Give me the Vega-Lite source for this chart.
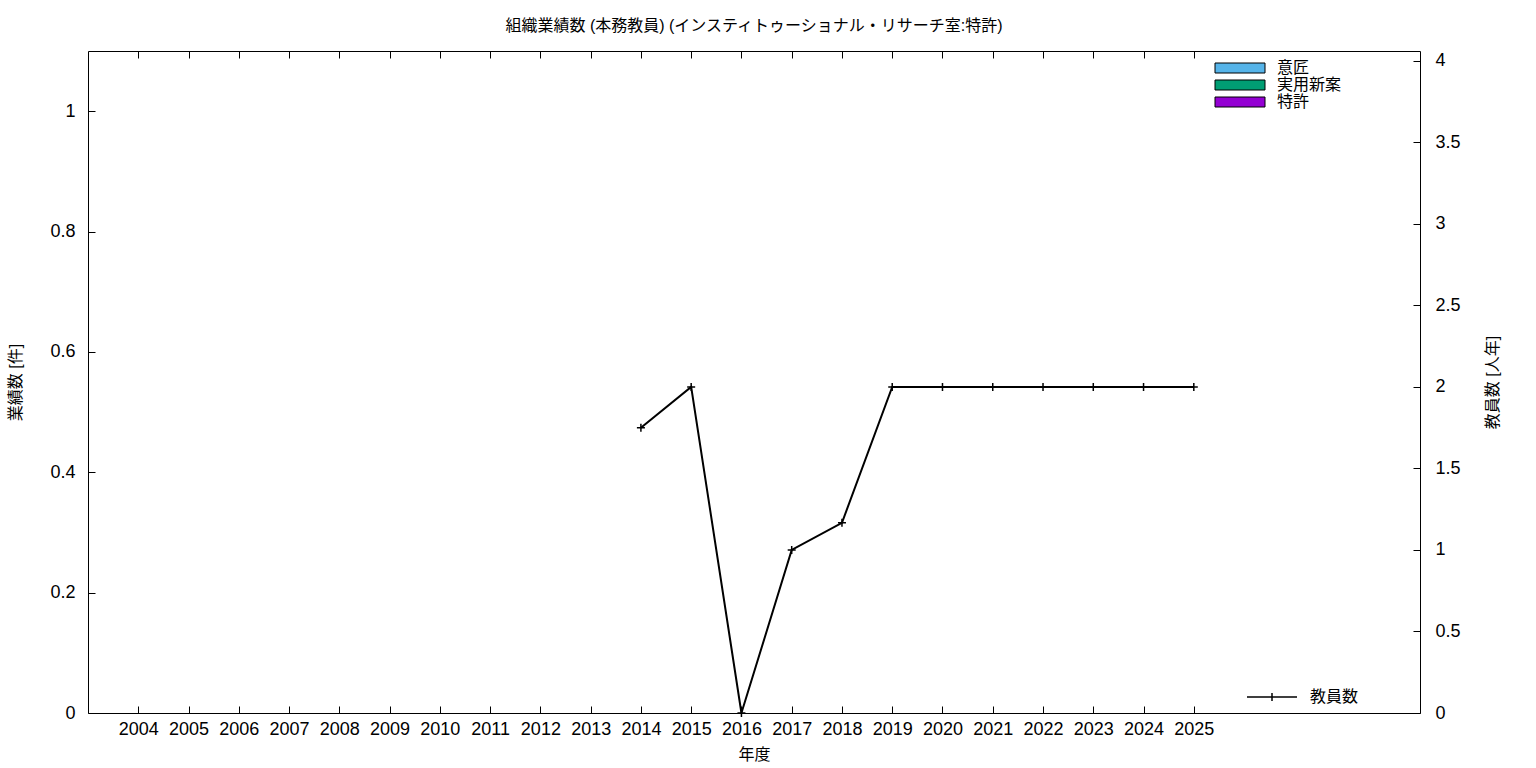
{
  "$schema": "https://vega.github.io/schema/vega-lite/v6.json",
  "autosize": {"type": "none"},
  "padding": {"left": 88, "top": 51, "right": 116, "bottom": 55},
  "width": 1332,
  "height": 662,
  "background": "white",
  "title": {
    "text": "組織業績数 (本務教員) (インスティトゥーショナル・リサーチ室:特許)",
    "font": "Liberation Sans, Noto Sans CJK JP",
    "fontSize": 16,
    "fontWeight": "normal",
    "color": "black",
    "anchor": "middle",
    "frame": "group",
    "offset": 17
  },
  "datasets": {
    "works": [
      {"年度": 2014, "種別": "特許", "件数": 0},
      {"年度": 2015, "種別": "特許", "件数": 0},
      {"年度": 2016, "種別": "特許", "件数": 0},
      {"年度": 2017, "種別": "特許", "件数": 0},
      {"年度": 2018, "種別": "特許", "件数": 0},
      {"年度": 2019, "種別": "特許", "件数": 0},
      {"年度": 2020, "種別": "特許", "件数": 0},
      {"年度": 2021, "種別": "特許", "件数": 0},
      {"年度": 2022, "種別": "特許", "件数": 0},
      {"年度": 2023, "種別": "特許", "件数": 0},
      {"年度": 2024, "種別": "特許", "件数": 0},
      {"年度": 2025, "種別": "特許", "件数": 0}
    ],
    "staff": [
      {"年度": 2014, "教員数": 1.75},
      {"年度": 2015, "教員数": 2},
      {"年度": 2016, "教員数": 0},
      {"年度": 2017, "教員数": 1},
      {"年度": 2018, "教員数": 1.1667},
      {"年度": 2019, "教員数": 2},
      {"年度": 2020, "教員数": 2},
      {"年度": 2021, "教員数": 2},
      {"年度": 2022, "教員数": 2},
      {"年度": 2023, "教員数": 2},
      {"年度": 2024, "教員数": 2},
      {"年度": 2025, "教員数": 2}
    ]
  },
  "layer": [
    {
      "data": {"name": "works"},
      "mark": {"type": "bar", "size": 30},
      "encoding": {
        "x": {
          "field": "年度", "type": "quantitative",
          "scale": {"domain": [2003, 2029.5], "nice": false, "zero": false, "padding": 0},
          "axis": {
            "orient": "bottom",
            "values": [2004,2005,2006,2007,2008,2009,2010,2011,2012,2013,2014,2015,2016,2017,2018,2019,2020,2021,2022,2023,2024,2025],
            "format": "d",
            "labelPadding": 14,
            "title": "年度",
            "titleX": 666,
            "titleY": 41,
            "titleAlign": "center",
            "titleBaseline": "middle"
          }
        },
        "y": {
          "field": "件数", "type": "quantitative",
          "scale": {"domain": [0, 1.1], "nice": false},
          "axis": {
            "orient": "left",
            "values": [0, 0.2, 0.4, 0.6, 0.8, 1],
            "format": "~g",
            "labelPadding": 20,
            "title": "業績数 [件]",
            "titleAngle": -90,
            "titleX": -73,
            "titleY": 331,
            "titleAlign": "center",
            "titleBaseline": "middle"
          }
        },
        "fill": {
          "field": "種別", "type": "nominal",
          "scale": {"domain": ["意匠", "実用新案", "特許"], "range": ["#56b4e9", "#009e73", "#9400d3"]},
          "legend": {
            "orient": "none",
            "legendX": 1144,
            "legendY": 9,
            "title": null,
            "symbolType": "M-5,-1H5V1H-5Z",
            "symbolSize": 100,
            "symbolStrokeColor": "black",
            "symbolStrokeWidth": 1,
            "symbolOpacity": 1,
            "labelOffset": 29,
            "labelFontSize": 16,
            "labelFont": "Liberation Sans, Noto Sans CJK JP",
            "labelColor": "black",
            "rowPadding": 1,
            "padding": 0
          }
        }
      }
    },
    {
      "data": {"name": "staff"},
      "mark": {
        "type": "line",
        "strokeWidth": 2,
        "point": {"shape": "M-1,0H1M0,-1V1", "size": 64, "filled": false, "stroke": "black", "strokeWidth": 1.5}
      },
      "encoding": {
        "x": {
          "field": "年度", "type": "quantitative",
          "scale": {"domain": [2003, 2029.5], "nice": false, "zero": false, "padding": 0},
          "axis": {
            "orient": "top",
            "values": [2004,2005,2006,2007,2008,2009,2010,2011,2012,2013,2014,2015,2016,2017,2018,2019,2020,2021,2022,2023,2024,2025],
            "labels": false,
            "title": null
          }
        },
        "y": {
          "field": "教員数", "type": "quantitative",
          "scale": {"domain": [0, 4.06], "nice": false},
          "axis": {
            "orient": "right",
            "values": [0, 0.5, 1, 1.5, 2, 2.5, 3, 3.5, 4],
            "format": "~g",
            "labelPadding": 22,
            "title": "教員数 [人年]",
            "titleAngle": -90,
            "titleX": 72,
            "titleY": 331,
            "titleAlign": "center",
            "titleBaseline": "middle"
          }
        },
        "stroke": {
          "datum": "教員数",
          "scale": {"range": ["black"]},
          "legend": {
            "orient": "none",
            "legendX": 1176,
            "legendY": 638,
            "title": null,
            "symbolType": "M-5,0H5M0,-0.8V0.8",
            "symbolSize": 100,
            "symbolStrokeWidth": 1.5,
            "labelOffset": 30,
            "labelFontSize": 16,
            "labelFont": "Liberation Sans, Noto Sans CJK JP",
            "labelColor": "black",
            "padding": 0
          }
        }
      }
    }
  ],
  "resolve": {
    "scale": {"y": "independent", "x": "shared"},
    "axis": {"x": "independent", "y": "independent"}
  },
  "config": {
    "view": {"stroke": "black", "strokeWidth": 1},
    "font": "Liberation Sans, Noto Sans CJK JP",
    "axis": {
      "grid": false,
      "domain": false,
      "ticks": true,
      "tickSize": -7,
      "tickColor": "black",
      "tickWidth": 1,
      "labelFont": "Liberation Sans, Noto Sans CJK JP",
      "labelFontSize": 18,
      "labelColor": "black",
      "titleFont": "Liberation Sans, Noto Sans CJK JP",
      "titleFontSize": 16,
      "titleFontWeight": "normal",
      "titleColor": "black"
    }
  }
}
